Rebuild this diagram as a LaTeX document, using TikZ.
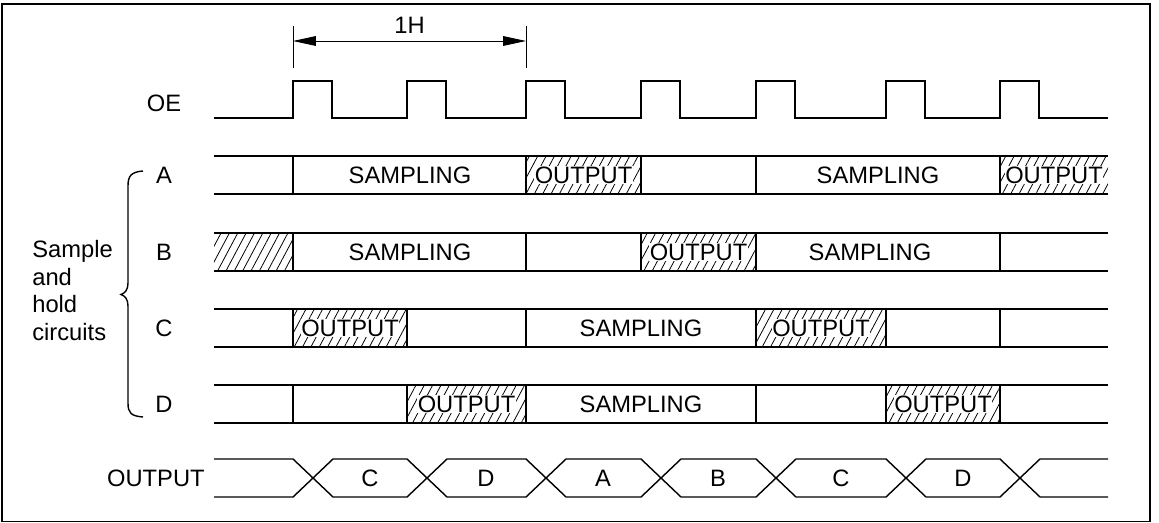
\documentclass[tikz,border=0pt]{standalone}
\usepackage{fontspec}
\setmainfont{Liberation Sans}
\usetikzlibrary{arrows.meta,patterns.meta}

\tikzset{
  wave/.style={line width=0.8pt},
  hatch/.style={pattern={Lines[angle=62,distance=4.2pt,line width=0.45pt]}},
  lbl/.style={inner sep=0pt},
  outlbl/.style={fill=white,inner sep=0.4pt},
  dim/.style={line width=0.5pt},
}

\begin{document}
\begin{tikzpicture}[x=0.02cm,y=-0.02cm,font=\fontsize{13.5}{15.7}\selectfont]
\useasboundingbox (0,0) rectangle (1159,523);
\draw[line width=1pt] (2,4) rectangle (1150,521.5);

% one period
\draw[dim] (293,26) -- (293,68) (526,26) -- (526,68);
\coordinate (h0) at (293,41);
\coordinate (h1) at (526,41);
\draw[dim,{Triangle[length=13pt,width=5.5pt]}-{Triangle[length=13pt,width=5.5pt]}] (h0) -- node[lbl,above=4pt] (hlbl) {1H} (h1);

% OE pulses
\node[lbl] (oe) at (164,103) {OE};
\draw[wave] (214,118) foreach \r in {293,407,526,641,756,886,1000} { -- (\r,118) -- (\r,81) -- (\r+39,81) -- (\r+39,118) } -- (1108,118);

% hatched output slots
\fill[hatch] (526,156) rectangle (641,194) (1000,156) rectangle (1108,194);
\fill[hatch] (214,233) rectangle (293,271) (641,233) rectangle (756,271);
\fill[hatch] (293,309) rectangle (407,347) (756,309) rectangle (886,347);
\fill[hatch] (407,385) rectangle (526,423) (886,385) rectangle (1000,423);

% rails and names
\foreach \y/\nm in {156/A,233/B,309/C,385/D} {
  \draw[wave] (214,\y) -- (1108,\y) (214,\y+38) -- (1108,\y+38);
  \node[lbl] (lbl\nm) at (164,\y+19) {\nm};
}

% row A
\foreach \x in {293,526,641,756,1000} \draw[wave] (\x,156) -- (\x,194);
\node (a1) at (410,175) {SAMPLING};
\node[outlbl] (a2) at (583.5,175) {OUTPUT};
\node (a3) at (878,175) {SAMPLING};
\node[outlbl] (a4) at (1054,175) {OUTPUT};

% row B
\foreach \x in {293,526,641,756,1000} \draw[wave] (\x,233) -- (\x,271);
\node (b1) at (410,252) {SAMPLING};
\node[outlbl] (b2) at (698.5,252) {OUTPUT};
\node (b3) at (870,252) {SAMPLING};

% row C
\foreach \x in {293,407,526,756,886,1000} \draw[wave] (\x,309) -- (\x,347);
\node[outlbl] (c1) at (350,328) {OUTPUT};
\node (c2) at (641,328) {SAMPLING};
\node[outlbl] (c3) at (821,328) {OUTPUT};

% row D
\foreach \x in {293,407,526,756,886,1000} \draw[wave] (\x,385) -- (\x,423);
\node[outlbl] (d1) at (466.5,404) {OUTPUT};
\node (d2) at (641,404) {SAMPLING};
\node[outlbl] (d3) at (943,404) {OUTPUT};

% brace over the four circuits
\draw[wave] (143,171) .. controls (131,172) and (128,176) .. (128,186) -- (128,283)
  .. controls (128,290) and (125,293) .. (121,294.5)
  .. controls (125,296) and (128,299) .. (128,306) -- (128,403)
  .. controls (128,413) and (131,416) .. (143,417);
\node[lbl,anchor=north west,align=left] (sh) at (32,240) {Sample\\and\\hold\\circuits};

% output bus
\node[lbl,anchor=east] (bus) at (205,478) {OUTPUT};
\draw[wave] (214,459) -- (293,459) -- (333,497) -- (407,497) -- (447,459) -- (526,459)
  -- (566,497) -- (641,497) -- (681,459) -- (756,459) -- (796,497) -- (886,497)
  -- (926,459) -- (1000,459) -- (1040,497) -- (1108,497);
\draw[wave] (214,497) -- (293,497) -- (333,459) -- (407,459) -- (447,497) -- (526,497)
  -- (566,459) -- (641,459) -- (681,497) -- (756,497) -- (796,459) -- (886,459)
  -- (926,497) -- (1000,497) -- (1040,459) -- (1108,459);
\foreach \x/\s [count=\i] in {370/C,486/D,603/A,718/B,841/C,963/D}
  \node (s\i) at (\x,478) {\s};
\end{tikzpicture}
\end{document}
